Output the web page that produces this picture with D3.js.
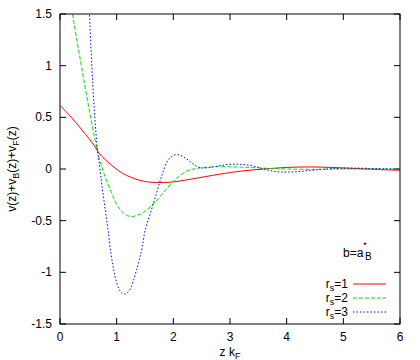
<!DOCTYPE html>
<html>
<head>
<meta charset="utf-8">
<script src="https://cdn.jsdelivr.net/npm/d3@7"></script>
<style>
  body { margin: 0; background: #fff; }
  text { font-family: "Liberation Sans", Arial, sans-serif; font-size: 12px; fill: #000; }
</style>
</head>
<body>
<svg id="chart" width="420" height="360"></svg>
<script>
// values: [z kF, v]
var rs1 = [[0,0.615],[0.2,0.50],[0.4,0.37],[0.6,0.23],[0.68,0.16],[0.8,0.09],[0.97,0.01],[1.1,-0.04],
  [1.25,-0.08],[1.41,-0.11],[1.55,-0.125],[1.7,-0.13],[1.85,-0.13],[2.0,-0.125],[2.29,-0.10],[2.82,-0.05],
  [3.2,-0.02],[3.6,0.0],[4.0,0.015],[4.4,0.02],[4.8,0.015],[5.2,0.005],[5.6,-0.005],[6.0,-0.012]];
var rs2 = [[0.1,1.9],[0.15,1.72],[0.22,1.5],[0.3,1.24],[0.38,0.99],[0.45,0.77],[0.52,0.56],[0.6,0.33],
  [0.67,0.15],[0.72,0.05],[0.78,-0.05],[0.91,-0.23],[1.03,-0.37],[1.15,-0.44],[1.26,-0.46],[1.4,-0.44],
  [1.5,-0.41],[1.71,-0.30],[2.0,-0.12],[2.24,-0.02],[2.47,0.01],[2.8,0.022],[3.2,0.018],[3.6,0.008],
  [4.0,0.0],[4.5,-0.003],[5.0,0.0],[6.0,0.0]];
var rs3 = [[0.45,2.3],[0.5,1.72],[0.52,1.5],[0.56,1.02],[0.6,0.62],[0.65,0.25],[0.7,0.02],[0.75,-0.2],
  [0.8,-0.4],[0.85,-0.6],[0.9,-0.82],[0.95,-0.98],[1.0,-1.10],[1.05,-1.17],[1.1,-1.205],[1.15,-1.21],
  [1.2,-1.19],[1.25,-1.15],[1.3,-1.07],[1.35,-0.98],[1.4,-0.88],[1.45,-0.76],[1.5,-0.6],[1.6,-0.42],
  [1.7,-0.24],[1.8,-0.06],[1.9,0.08],[2.0,0.13],[2.07,0.14],[2.2,0.11],[2.3,0.07],[2.4,0.03],[2.5,0.01],
  [2.6,0.012],[2.8,0.03],[3.0,0.045],[3.2,0.045],[3.4,0.03],[3.6,0.0],[3.8,-0.025],[4.0,-0.03],
  [4.2,-0.025],[4.4,-0.015],[4.6,-0.005],[4.8,0.003],[5.0,0.008],[5.3,0.008],[5.6,0.003],[6.0,0.0]];
var series = [
  {name: "1", data: rs1, color: "#ff0000", dash: null},
  {name: "2", data: rs2, color: "#00e000", dash: "4,2"},
  {name: "3", data: rs3, color: "#0000ff", dash: "1.5,2"}
];
var xTicks = [0,1,2,3,4,5,6];
var yTicks = [-1.5,-1,-0.5,0,0.5,1,1.5];

var pl = 60, pr = 400, pt = 14, pb = 324;
var svg = d3.select('#chart');
var x = d3.scaleLinear().domain([0,6]).range([pl,pr]);
var y = d3.scaleLinear().domain([-1.5,1.5]).range([pb,pt]);

svg.append('clipPath').attr('id','clip')
  .append('rect').attr('x',pl).attr('y',pt).attr('width',pr-pl).attr('height',pb-pt);

// ticks on all four sides, pointing in
var tl = 6;
xTicks.forEach(function(t){
  svg.append('line').attr('x1',x(t)).attr('x2',x(t)).attr('y1',pb).attr('y2',pb-tl).attr('stroke','#000');
  svg.append('line').attr('x1',x(t)).attr('x2',x(t)).attr('y1',pt).attr('y2',pt+tl).attr('stroke','#000');
  svg.append('text').attr('x',x(t)).attr('y',pb+17).attr('text-anchor','middle').text(t);
});
yTicks.forEach(function(t){
  svg.append('line').attr('x1',pl).attr('x2',pl+tl).attr('y1',y(t)).attr('y2',y(t)).attr('stroke','#000');
  svg.append('line').attr('x1',pr).attr('x2',pr-tl).attr('y1',y(t)).attr('y2',y(t)).attr('stroke','#000');
  svg.append('text').attr('x',pl-8).attr('y',y(t)+4).attr('text-anchor','end').text(t);
});

var line = d3.line().x(function(d){return x(d[0]);}).y(function(d){return y(d[1]);}).curve(d3.curveCatmullRom);
var g = svg.append('g').attr('clip-path','url(#clip)');
series.forEach(function(s){
  g.append('path').attr('d',line(s.data)).attr('fill','none').attr('stroke',s.color)
    .attr('stroke-width',1).attr('stroke-dasharray',s.dash);
});

svg.append('rect').attr('x',pl).attr('y',pt).attr('width',pr-pl).attr('height',pb-pt)
  .attr('fill','none').attr('stroke','#000');

// axis labels
var xl = svg.append('text').attr('x',230).attr('y',356).attr('text-anchor','middle');
xl.append('tspan').text('z k');
xl.append('tspan').attr('dy',3).attr('font-size','9px').text('F');

var yl = svg.append('text').attr('transform','translate(16,169) rotate(-90)').attr('text-anchor','middle');
yl.append('tspan').text('v(z)+v');
yl.append('tspan').attr('dy',3).attr('font-size','9px').text('B');
yl.append('tspan').attr('dy',-3).text('(z)+v');
yl.append('tspan').attr('dy',3).attr('font-size','9px').text('F');
yl.append('tspan').attr('dy',-3).text('(z)');

// legend
var bl = svg.append('text').attr('x',343).attr('y',257);
bl.append('tspan').text('b=a');
bl.append('tspan').attr('dy',-9).attr('font-size','9px').text('*');
bl.append('tspan').attr('dy',12).attr('dx',-2).attr('font-size','10px').text('B');

series.forEach(function(s,i){
  var yy = 284 + i*14;
  var t = svg.append('text').attr('x',348).attr('y',yy+4).attr('text-anchor','end');
  t.append('tspan').text('r');
  t.append('tspan').attr('dy',3).attr('font-size','9px').text('s');
  t.append('tspan').attr('dy',-3).text('=' + s.name);
  svg.append('line').attr('x1',353).attr('x2',386).attr('y1',yy).attr('y2',yy)
    .attr('stroke',s.color).attr('stroke-dasharray',s.dash);
});
</script>
</body>
</html>
